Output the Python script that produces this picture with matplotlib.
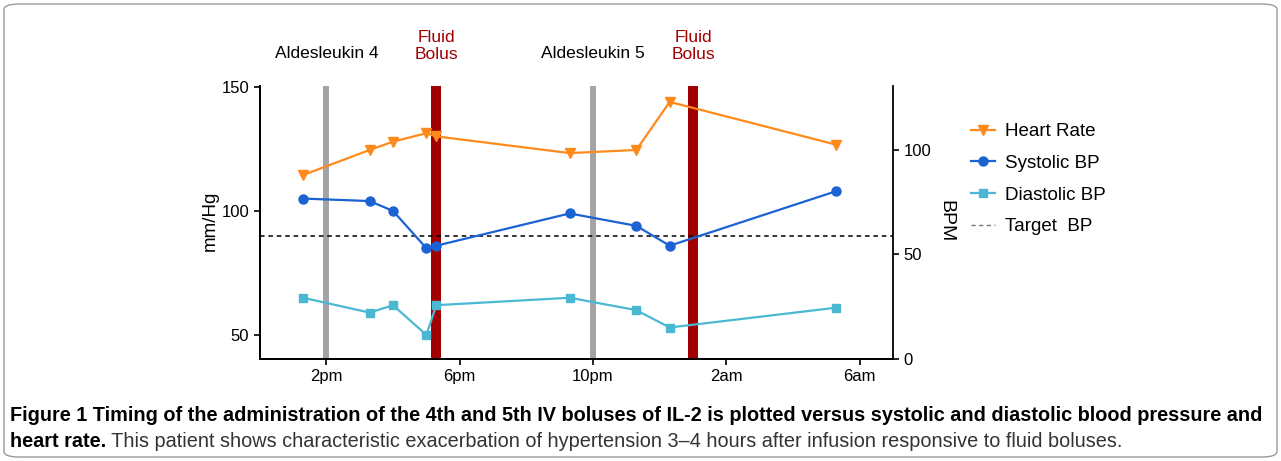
import matplotlib
matplotlib.use("Agg")
import matplotlib.pyplot as plt
import matplotlib.transforms as mtransforms
from matplotlib.lines import Line2D
from matplotlib.patches import FancyBboxPatch

# data (hours on a 24h clock, >24 = next day)
times = [13.3, 15.3, 16.0, 17.0, 17.3, 21.3, 23.3, 24.3, 29.3]
heart_rate = [88, 100, 104, 108, 106.5, 98.5, 100, 123, 102.5]
systolic = [105, 104, 100, 85, 86, 99, 94, 86, 108]
diastolic = [65, 59, 62, 50, 62, 65, 60, 53, 61]
target_bp = 90

aldesleukin_times = [14, 22]
aldesleukin_labels = ["Aldesleukin 4", "Aldesleukin 5"]
bolus_times = [17.3, 25.0]

tick_hours = [14, 18, 22, 26, 30]
tick_labels = ["2pm", "6pm", "10pm", "2am", "6am"]

plt.rcParams["font.family"] = ["Liberation Sans", "DejaVu Sans"]

c_hr = "#FF8A1C"
c_sys = "#1B62D2"
c_dia = "#4BB8D3"
c_grey = "#A3A3A8"
c_red = "#A00000"

W, H = 1281, 461
fig = plt.figure(figsize=(W / 100, H / 100), dpi=100)

# rounded frame around the whole figure
fig.patches.append(FancyBboxPatch((4 / W, 4 / H), 1 - 8 / W, 1 - 8 / H,
                                  boxstyle="round,pad=0,rounding_size=0.012",
                                  transform=fig.transFigure, fc="none",
                                  ec="#9a9a9a", lw=1.0))

ax = fig.add_axes([259.7 / W, 1 - 359 / H, (893 - 259.7) / W, (359 - 86) / H])
ax2 = ax.twinx()

ax.set_xlim(12, 31)
ax.set_ylim(40.3, 150.4)
ax2.set_ylim(0, 130.6)

# vertical event bars
for t in aldesleukin_times:
    ax.axvline(t, color=c_grey, lw=4.3, zorder=1)
for t in bolus_times:
    ax.axvline(t, ymin=0.007, ymax=0.99, color=c_red, lw=7.2, zorder=1)

ax.axhline(target_bp, color="black", lw=1.1, ls=(0, (3, 2.5)), zorder=2)

ax.plot(times, systolic, color=c_sys, marker="o", ms=6.5, lw=1.6, zorder=4)
ax.plot(times, diastolic, color=c_dia, marker="s", ms=6.2, lw=1.6, zorder=4)
ax2.plot(times, heart_rate, color=c_hr, marker="v", ms=7, lw=1.6, zorder=4)

ax.set_xticks(tick_hours)
ax.set_xticklabels(tick_labels, fontsize=12)
ax.set_yticks([50, 100, 150])
ax.tick_params(labelsize=12, width=1.2, length=4)
ax2.set_yticks([0, 50, 100])
ax2.tick_params(labelsize=12, width=1.2, length=4)

for a in (ax, ax2):
    a.spines["top"].set_visible(False)
    for s in a.spines.values():
        s.set_linewidth(1.3)
ax.spines["right"].set_visible(False)

fig.text(210 / W, 1 - 221 / H, "mm/Hg", rotation=90, ha="center", va="center", fontsize=13.5)
fig.text(946 / W, 1 - 221 / H, "BPM", rotation=270, ha="center", va="center", fontsize=14)

# labels above the bars
trans = mtransforms.blended_transform_factory(ax.transData, fig.transFigure)
for t, lab in zip(aldesleukin_times, aldesleukin_labels):
    ax.text(t, 1 - 53 / H, lab, transform=trans, ha="center", va="center", fontsize=12.5)
for t in bolus_times:
    ax.text(t, 1 - 46 / H, "Fluid\nBolus", transform=trans, ha="center", va="center",
            fontsize=12.5, color=c_red, linespacing=1.1)

handles = [
    Line2D([], [], color=c_hr, marker="v", ms=7, lw=1.6),
    Line2D([], [], color=c_sys, marker="o", ms=6.5, lw=1.6),
    Line2D([], [], color=c_dia, marker="s", ms=6.2, lw=1.6),
    Line2D([], [], color="#777777", lw=1.0, ls=(0, (3, 2.5))),
]
labels = ["Heart Rate", "Systolic BP", "Diastolic BP", "Target  BP"]
fig.legend(handles, labels, loc="upper left", bbox_to_anchor=(971 / W, 1 - 123 / H),
           frameon=False, fontsize=13.5, handlelength=1.3, handletextpad=0.5,
           labelspacing=0.78, borderaxespad=0, borderpad=0)

# caption
cap1 = ("Figure 1 Timing of the administration of the 4th and 5th IV boluses of IL-2 "
        "is plotted versus systolic and diastolic blood pressure and")
cap2b = "heart rate."
cap2 = " This patient shows characteristic exacerbation of hypertension 3\u20134 hours after infusion responsive to fluid boluses."
t1 = fig.text(10 / W, 1 - 415 / H, cap1, fontsize=12.5, fontweight="bold",
              ha="left", va="center")
r = fig.canvas.get_renderer()
w = t1.get_window_extent(r).width
fs = 12.5 * (1260 / w)
t1.set_fontsize(fs)
t2 = fig.text(10 / W, 1 - 441 / H, cap2b, fontsize=fs, fontweight="bold",
              ha="left", va="center")
x2 = t2.get_window_extent(r).x1
fig.text(x2 / W, 1 - 441 / H, cap2, fontsize=fs, color="#333333",
         ha="left", va="center")

fig.savefig("out.png", dpi=100)
